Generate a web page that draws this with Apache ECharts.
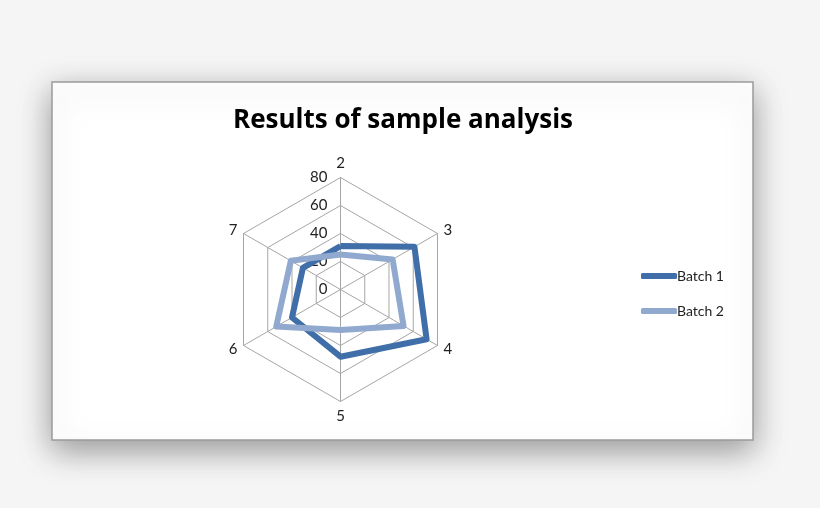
<!DOCTYPE html>
<html>
<head>
<meta charset="utf-8">
<script src="https://cdn.jsdelivr.net/npm/echarts@6/dist/echarts.min.js"></script>
<style>
html,body{margin:0;padding:0;background:#f5f5f5;}
#chart{width:820px;height:508px;}
</style>
</head>
<body>
<div id="chart"></div>
<script>
var categories = ['2', '3', '4', '5', '6', '7'];
var batch1 = [31, 61, 71, 48, 40, 31];
var batch2 = [25, 43, 52, 29, 53, 41];
var seriesNames = ['Batch 1', 'Batch 2'];
var axisMax = 80;
var chartTitle = 'Results of sample analysis';

// ECharts radar runs counter-clockwise; the reference runs clockwise.
// Keep the first category at the top and reverse the rest.
var order = [0].concat(categories.map(function (_, i) { return i; }).slice(1).reverse());
function reorder(arr) { return order.map(function (i) { return arr[i]; }); }

var FONT = 'Lato, "Open Sans", sans-serif';
var chart = echarts.init(document.getElementById('chart'));
var indicators = reorder(categories).map(function (c, i) {
  var ind = { name: c, max: axisMax, min: 0 };
  if (i === 0) ind.axisLabel = { show: true };
  return ind;
});
chart.setOption({
  backgroundColor: '#f5f5f5',
  animation: false,
  graphic: [{
    type: 'rect',
    z: -10,
    shape: { x: 52, y: 82, width: 701, height: 358 },
    style: {
      fill: '#ffffff',
      stroke: '#9a9a9a',
      lineWidth: 1.5,
      shadowBlur: 30,
      shadowOffsetY: 10,
      shadowColor: 'rgba(0,0,0,0.38)'
    }
  }],
  title: {
    text: chartTitle,
    left: 398,
    textAlign: 'center',
    top: 103,
    textStyle: { fontFamily: '"Open Sans", Lato, sans-serif', fontWeight: 'bold', fontSize: 26, color: '#000' }
  },
  legend: {
    orient: 'vertical',
    left: 636,
    top: 264,
    itemWidth: 36,
    itemHeight: 6,
    itemGap: 21,
    icon: 'roundRect',
    textStyle: { fontFamily: FONT, fontSize: 14, color: '#222', padding: [0, 0, 0, -5] },
    data: seriesNames
  },
  radar: {
    center: [340.5, 289.5],
    radius: 112,
    shape: 'polygon',
    splitNumber: 4,
    startAngle: 90,
    nameGap: 7,
    axisName: { color: '#222', fontFamily: FONT, fontSize: 15 },
    axisLine: { lineStyle: { color: '#a6a6a6', width: 1 } },
    splitLine: { lineStyle: { color: '#a6a6a6', width: 1 } },
    splitArea: { show: false },
    axisTick: { show: false },
    axisLabel: { show: false, color: '#222', fontFamily: FONT, fontSize: 15, margin: 13, showMinLabel: true },
    indicator: indicators
  },
  series: [{
    type: 'radar',
    symbol: 'none',
    data: [
      { name: seriesNames[0], value: reorder(batch1),
        lineStyle: { color: '#3f6ea8', width: 6 }, itemStyle: { color: '#3f6ea8' } },
      { name: seriesNames[1], value: reorder(batch2),
        lineStyle: { color: '#91a9cf', width: 6 }, itemStyle: { color: '#91a9cf' } }
    ]
  }]
});
</script>
</body>
</html>
